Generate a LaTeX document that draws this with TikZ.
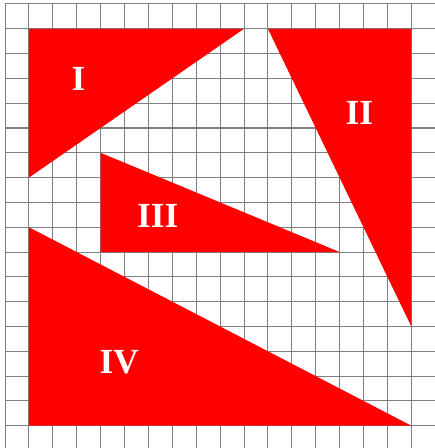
\documentclass[tikz,border=0pt]{standalone}
\usepackage{fontspec}
\setmainfont{Liberation Serif}
\usepackage{tikz}
\tikzset{
    gridline/.style = {draw=black!50, line width=0.6pt},
    piece/.style    = {fill=red, draw=none},
    piecelbl/.style = {text=white, font=\bfseries\fontsize{21}{21}\selectfont, inner sep=0pt},
}

\begin{document}
\begin{tikzpicture}[x=0.5cm, y=-0.519cm]
\useasboundingbox (-0.21,-0.16) rectangle (17.95,17.9);

% squared paper
\foreach \k in {0,...,18} {
    \draw[gridline] (\k,0) -- (\k,18);
    \draw[gridline] (0,\k) -- (18,\k);
}

% the four triangles
\fill[piece] (1,1) -- (10,1) -- (1,7) -- cycle;
\fill[piece] (11,1) -- (17,1) -- (17,13) -- cycle;
\fill[piece] (4,6) -- (4,10) -- (14,10) -- cycle;
\fill[piece] (1,9) -- (1,17) -- (17,17) -- cycle;

\node[piecelbl] (t1) at (3.07,3.04) {I};
\node[piecelbl] (t2) at (14.83,4.38) {II};
\node[piecelbl] (t3) at (6.39,8.55) {III};
\node[piecelbl] (t4) at (4.78,14.45) {IV};

\end{tikzpicture}
\end{document}
